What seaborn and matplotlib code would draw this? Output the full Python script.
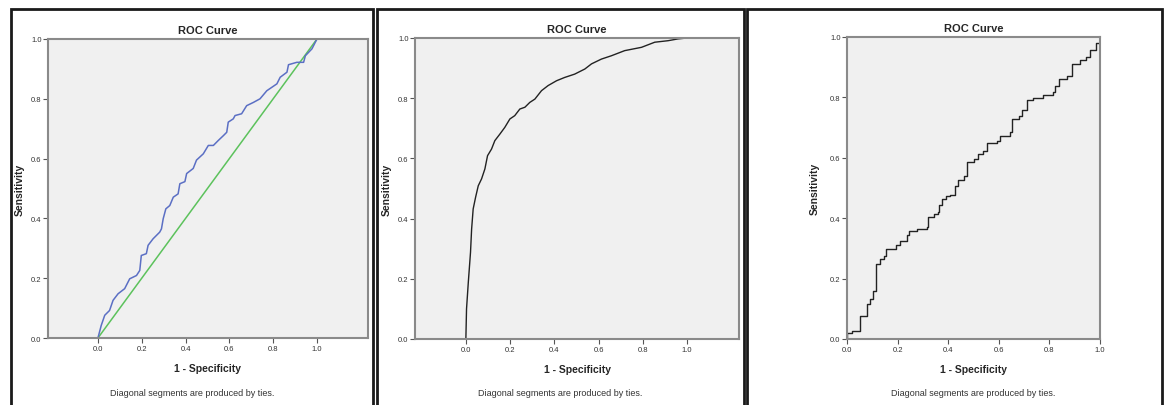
import matplotlib
matplotlib.use("Agg")
import matplotlib.pyplot as plt
from matplotlib.patches import Rectangle
import seaborn as sns

# ROC points (1 - specificity, sensitivity)
fpr_a = [0.0, 0.015, 0.031, 0.053, 0.069, 0.092, 0.122, 0.145, 0.176, 0.191, 0.198, 0.221,
         0.229, 0.252, 0.282, 0.290, 0.298, 0.310, 0.328, 0.344, 0.366, 0.374, 0.397, 0.405,
         0.435, 0.450, 0.481, 0.504, 0.527, 0.550, 0.573, 0.588, 0.595, 0.618, 0.626, 0.656,
         0.679, 0.710, 0.740, 0.771, 0.817, 0.832, 0.863, 0.870, 0.908, 0.939, 0.947, 0.977, 1.0]
tpr_a = [0.0, 0.042, 0.076, 0.092, 0.126, 0.148, 0.165, 0.198, 0.209, 0.226, 0.276, 0.282,
         0.310, 0.332, 0.354, 0.365, 0.399, 0.432, 0.443, 0.471, 0.482, 0.516, 0.523, 0.550,
         0.567, 0.595, 0.616, 0.644, 0.644, 0.661, 0.677, 0.688, 0.722, 0.733, 0.744, 0.750,
         0.777, 0.788, 0.800, 0.827, 0.850, 0.872, 0.889, 0.914, 0.922, 0.922, 0.944, 0.967, 1.0]
ref_line = [0.0, 1.0]

fpr_b = [0.0, 0.003, 0.011, 0.021, 0.026, 0.033, 0.044, 0.056, 0.071, 0.086, 0.098, 0.116,
         0.131, 0.154, 0.176, 0.199, 0.221, 0.244, 0.267, 0.289, 0.312, 0.342, 0.372, 0.410,
         0.447, 0.492, 0.538, 0.568, 0.613, 0.658, 0.718, 0.794, 0.854, 0.914, 0.959, 1.0]
tpr_b = [0.0, 0.100, 0.188, 0.288, 0.365, 0.432, 0.471, 0.509, 0.532, 0.565, 0.609, 0.631,
         0.659, 0.681, 0.703, 0.731, 0.742, 0.764, 0.770, 0.786, 0.797, 0.825, 0.842, 0.858,
         0.869, 0.880, 0.897, 0.914, 0.930, 0.941, 0.958, 0.969, 0.986, 0.991, 0.997, 1.0]

fpr_c = [0.0, 0.0, 0.020, 0.050, 0.050, 0.079, 0.079, 0.092, 0.103, 0.116, 0.116, 0.132,
         0.145, 0.154, 0.191, 0.195, 0.211, 0.237, 0.247, 0.276, 0.316, 0.320, 0.342, 0.359,
         0.362, 0.374, 0.392, 0.408, 0.425, 0.438, 0.461, 0.476, 0.500, 0.516, 0.539, 0.553,
         0.592, 0.605, 0.645, 0.651, 0.678, 0.691, 0.711, 0.737, 0.776, 0.813, 0.822, 0.836,
         0.868, 0.888, 0.921, 0.945, 0.961, 0.984, 1.0]
tpr_c = [0.0, 0.019, 0.028, 0.039, 0.077, 0.083, 0.116, 0.133, 0.160, 0.160, 0.249, 0.265,
         0.276, 0.298, 0.298, 0.312, 0.326, 0.343, 0.357, 0.365, 0.372, 0.403, 0.414, 0.420,
         0.444, 0.465, 0.475, 0.477, 0.506, 0.528, 0.541, 0.586, 0.597, 0.613, 0.624, 0.650,
         0.657, 0.672, 0.685, 0.729, 0.738, 0.759, 0.790, 0.798, 0.807, 0.818, 0.838, 0.862,
         0.871, 0.912, 0.923, 0.934, 0.956, 0.981, 1.0]

ticks = [0.0, 0.2, 0.4, 0.6, 0.8, 1.0]
tick_labels = ["0.0", "0.2", "0.4", "0.6", "0.8", "1.0"]

sns.set_style("white")
plt.rcParams['font.family'] = ['Liberation Sans Narrow', 'Liberation Sans', 'DejaVu Sans']

W, H = 1166, 406
fig = plt.figure(figsize=(W / 100, H / 100), dpi=100)


def px_axes(x0, y0, x1, y1):
    # pixel box (top-left origin) -> figure axes
    return fig.add_axes([x0 / W, 1 - y1 / H, (x1 - x0) / W, (y1 - y0) / H])


def border(x0, x1, lw=2.0):
    fig.patches.append(Rectangle((x0 / W, -0.05), (x1 - x0) / W, 1.05 - 9.5 / H,
                                 transform=fig.transFigure, fill=False,
                                 edgecolor='#1a1a1a', linewidth=lw))


def style(ax, xlim, footnote_x, ylab_x):
    ax.set_facecolor('#f0f0f0')
    ax.set_xlim(*xlim)
    ax.set_ylim(0, 1)
    ax.set_xticks(ticks)
    ax.set_xticklabels(tick_labels)
    ax.set_yticks(ticks)
    ax.set_yticklabels(tick_labels)
    for s in ax.spines.values():
        s.set_color('#8a8a8a')
        s.set_linewidth(1.5)
    ax.tick_params(axis='both', direction='out', length=3.5, width=0.8, color='#555555',
                   labelsize=5.5, labelcolor='#333333', pad=1.2)
    ax.tick_params(axis='both', which='both', bottom=True, left=True)
    ax.set_title('ROC Curve', fontsize=8, fontweight='bold', pad=4)
    ax.set_xlabel('1 - Specificity', fontsize=7.5, fontweight='bold', labelpad=8)
    ax.set_ylabel('Sensitivity', fontsize=7.5, fontweight='bold')
    ax.yaxis.set_label_coords(ylab_x, 0.5)
    fig.text(footnote_x / W, 1 - 394 / H, 'Diagonal segments are produced by ties.',
             ha='center', va='center', fontsize=6.5, color='#333333')


# panel 1
border(11, 373)
ax1 = px_axes(48, 40, 368, 339)
sns.lineplot(x=ref_line, y=ref_line, ax=ax1, color='#5cc25c', linewidth=1.1,
             estimator=None, sort=False)
sns.lineplot(x=fpr_a, y=tpr_a, ax=ax1, color='#5b6fc4', linewidth=1.1,
             estimator=None, sort=False)
style(ax1, (-0.228, 1.233), 192, -0.072)

# panel 2
border(377, 744)
ax2 = px_axes(415, 39, 739, 340)
sns.lineplot(x=fpr_b, y=tpr_b, ax=ax2, color='#222222', linewidth=1.0,
             estimator=None, sort=False)
style(ax2, (-0.23, 1.235), 560, -0.071)

# panel 3
border(747, 1162)
ax3 = px_axes(847, 38, 1100, 340)
sns.lineplot(x=fpr_c, y=tpr_c, ax=ax3, color='#222222', linewidth=1.0,
             estimator=None, sort=False, drawstyle='steps-post')
style(ax3, (0, 1), 973, -0.107)

fig.savefig('out.png', dpi=100, facecolor='white')
